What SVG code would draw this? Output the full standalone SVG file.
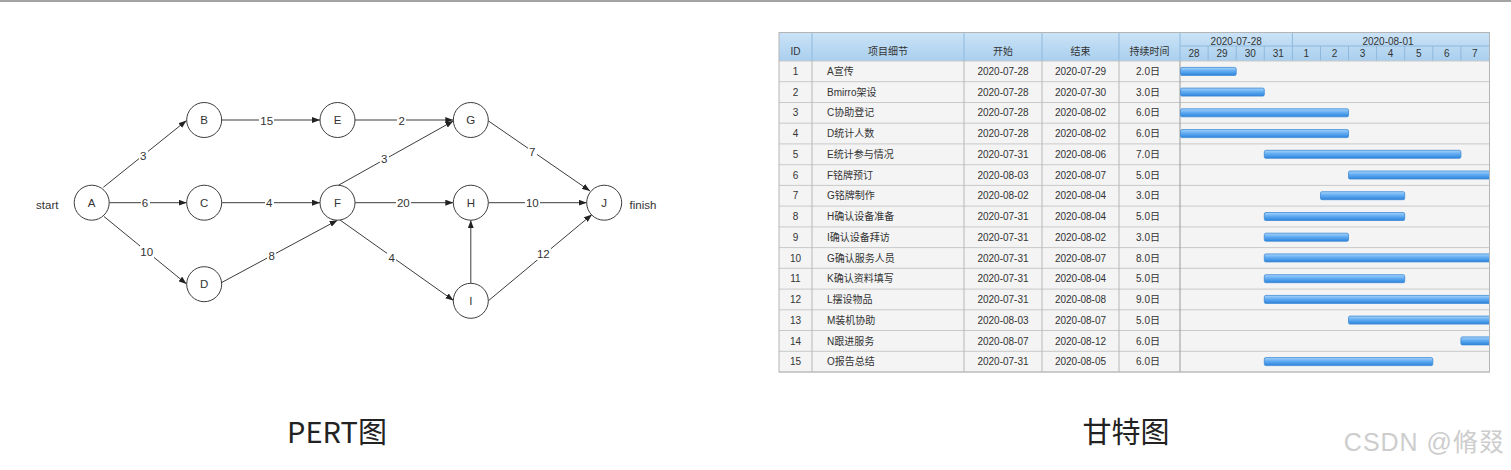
<svg xmlns="http://www.w3.org/2000/svg" width="1511" height="470" viewBox="0 0 1511 470">
<style>
.nd circle{fill:#fff;stroke:#3c3c3c;stroke-width:1}
.nd text,.lbl text,.side{font-family:"Liberation Sans","Noto Sans CJK SC",sans-serif;font-size:11.5px;fill:#333;text-anchor:middle}
.edges line{stroke:#3c3c3c;stroke-width:1;marker-end:url(#arr)}
.lbl rect{fill:#fff}
.t{font-family:"Liberation Sans","Noto Sans CJK SC",sans-serif;font-size:10px;fill:#333;text-anchor:middle}
.tl{font-family:"Liberation Sans","Noto Sans CJK SC",sans-serif;font-size:10px;fill:#333}
.hd{font-family:"Liberation Sans","Noto Sans CJK SC",sans-serif;font-size:10px;fill:#333;text-anchor:middle}
.bar{fill:url(#bg);stroke:#3d8ad6;stroke-width:0.8}
.rl{stroke:#c9c9c9;stroke-width:1}
.cl{stroke:#b8b8b8;stroke-width:1}
.hl{stroke:#8fb9dc;stroke-width:1}
.cap{font-family:"Noto Sans CJK SC","Liberation Sans",sans-serif;font-size:29px;fill:#222;text-anchor:middle}
</style>
<defs>
<marker id="arr" markerUnits="userSpaceOnUse" markerWidth="8" markerHeight="6" refX="8" refY="3" orient="auto">
<path d="M0,0 L8,3 L0,6 z" fill="#222"/>
</marker>
<linearGradient id="hg" x1="0" y1="0" x2="0" y2="1">
<stop offset="0" stop-color="#cbe3f7"/>
<stop offset="1" stop-color="#a9cfee"/>
</linearGradient>
<linearGradient id="bg" x1="0" y1="0" x2="0" y2="1">
<stop offset="0" stop-color="#a8d4fb"/>
<stop offset="0.45" stop-color="#62acf2"/>
<stop offset="1" stop-color="#2d84dc"/>
</linearGradient>
<clipPath id="chart"><rect x="1180" y="61" width="309" height="311"/></clipPath>
</defs>
<rect width="1511" height="470" fill="#fff"/>
<rect x="0" y="0" width="1511" height="2" fill="#a3a3a3"/>

<!-- PERT -->
<g class="edges" id="connectors">
<line x1="103.3" y1="187.3" x2="186.5" y2="120.5"/>
<line x1="109.2" y1="202.7" x2="186.7" y2="202.7"/>
<line x1="104" y1="216.5" x2="186.5" y2="284"/>
<line x1="221.7" y1="120" x2="320" y2="120"/>
<line x1="221.7" y1="202.7" x2="320" y2="202.7"/>
<line x1="221.7" y1="282.5" x2="337.5" y2="220.2"/>
<line x1="355" y1="120" x2="453.3" y2="120"/>
<line x1="338.5" y1="185.2" x2="453.3" y2="121"/>
<line x1="355" y1="202.7" x2="453.3" y2="202.7"/>
<line x1="340" y1="220" x2="453.5" y2="300.5"/>
<line x1="488.5" y1="121" x2="590" y2="191"/>
<line x1="488.3" y1="202.7" x2="586.7" y2="202.7"/>
<line x1="470.8" y1="283.3" x2="470.8" y2="220.2"/>
<line x1="488.3" y1="300.8" x2="592" y2="214.5"/>
</g>
<g class="lbl" id="edge-labels">
<rect x="139" y="150" width="9" height="12"/><text x="143.3" y="160">3</text>
<rect x="141" y="197" width="9" height="12"/><text x="145" y="206.8">6</text>
<rect x="140" y="246" width="14" height="12"/><text x="146.7" y="256.4">10</text>
<rect x="259" y="115" width="15" height="12"/><text x="266.7" y="124.8">15</text>
<rect x="265" y="197" width="9" height="12"/><text x="269.3" y="206.8">4</text>
<rect x="267" y="250" width="9" height="12"/><text x="271.7" y="259.8">8</text>
<rect x="397" y="115" width="9" height="12"/><text x="401.7" y="124.8">2</text>
<rect x="380" y="153" width="9" height="12"/><text x="384.3" y="163">3</text>
<rect x="396" y="197" width="15" height="12"/><text x="403.3" y="206.8">20</text>
<rect x="387" y="252" width="9" height="12"/><text x="391.7" y="262.4">4</text>
<rect x="528" y="146" width="9" height="12"/><text x="532.3" y="156.4">7</text>
<rect x="525" y="197" width="15" height="12"/><text x="532.3" y="206.8">10</text>
<rect x="536" y="248" width="15" height="12"/><text x="543.3" y="258.4">12</text>
</g>
<text class="side" x="47.3" y="209">start</text>
<text class="side" x="643" y="209">finish</text>
<g class="nd" id="node-A"><circle cx="91.7" cy="202.7" r="17.5"/><text x="91.7" y="206.8">A</text></g>
<g class="nd" id="node-B"><circle cx="204.2" cy="120" r="17.5"/><text x="204.2" y="124.1">B</text></g>
<g class="nd" id="node-C"><circle cx="204.2" cy="202.7" r="17.5"/><text x="204.2" y="206.8">C</text></g>
<g class="nd" id="node-D"><circle cx="204.2" cy="284.2" r="17.5"/><text x="204.2" y="288.3">D</text></g>
<g class="nd" id="node-E"><circle cx="337.5" cy="120" r="17.5"/><text x="337.5" y="124.1">E</text></g>
<g class="nd" id="node-F"><circle cx="337.5" cy="202.7" r="17.5"/><text x="337.5" y="206.8">F</text></g>
<g class="nd" id="node-G"><circle cx="470.8" cy="120" r="17.5"/><text x="470.8" y="124.1">G</text></g>
<g class="nd" id="node-H"><circle cx="470.8" cy="202.7" r="17.5"/><text x="470.8" y="206.8">H</text></g>
<g class="nd" id="node-I"><circle cx="470.8" cy="300.8" r="17.5"/><text x="470.8" y="304.9">I</text></g>
<g class="nd" id="node-J"><circle cx="604.2" cy="202.7" r="17.5"/><text x="604.2" y="206.8">J</text></g>

<!-- Gantt -->
<g id="gantt">
<rect x="779" y="61" width="710.5" height="311" fill="#f4f4f4"/>
<rect x="779" y="32.5" width="710.5" height="28.5" fill="url(#hg)"/>
<g id="header-lines">
<line class="hl" x1="1180" y1="46" x2="1489.5" y2="46"/>
<line class="hl" x1="812" y1="32.5" x2="812" y2="61"/>
<line class="hl" x1="964" y1="32.5" x2="964" y2="61"/>
<line class="hl" x1="1042" y1="32.5" x2="1042" y2="61"/>
<line class="hl" x1="1119" y1="32.5" x2="1119" y2="61"/>
<line class="hl" x1="1180" y1="32.5" x2="1180" y2="61"/>
<line class="hl" x1="1292.4" y1="32.5" x2="1292.4" y2="61"/>
<line class="hl" x1="1208.1" y1="46" x2="1208.1" y2="61"/>
<line class="hl" x1="1236.2" y1="46" x2="1236.2" y2="61"/>
<line class="hl" x1="1264.3" y1="46" x2="1264.3" y2="61"/>
<line class="hl" x1="1320.5" y1="46" x2="1320.5" y2="61"/>
<line class="hl" x1="1348.5" y1="46" x2="1348.5" y2="61"/>
<line class="hl" x1="1376.6" y1="46" x2="1376.6" y2="61"/>
<line class="hl" x1="1404.7" y1="46" x2="1404.7" y2="61"/>
<line class="hl" x1="1432.8" y1="46" x2="1432.8" y2="61"/>
<line class="hl" x1="1460.9" y1="46" x2="1460.9" y2="61"/>
</g>
<g id="header-text">
<text class="hd" x="795.5" y="55">ID</text>
<text class="hd" x="888" y="55">项目细节</text>
<text class="hd" x="1003" y="55">开始</text>
<text class="hd" x="1080.5" y="55">结束</text>
<text class="hd" x="1149.5" y="55">持续时间</text>
<text class="hd" x="1236.2" y="44.5">2020-07-28</text>
<text class="hd" x="1388" y="44.5">2020-08-01</text>
<text class="hd" x="1194" y="57">28</text>
<text class="hd" x="1222.1" y="57">29</text>
<text class="hd" x="1250.2" y="57">30</text>
<text class="hd" x="1278.3" y="57">31</text>
<text class="hd" x="1306.4" y="57">1</text>
<text class="hd" x="1334.5" y="57">2</text>
<text class="hd" x="1362.6" y="57">3</text>
<text class="hd" x="1390.6" y="57">4</text>
<text class="hd" x="1418.7" y="57">5</text>
<text class="hd" x="1446.8" y="57">6</text>
<text class="hd" x="1474.9" y="57">7</text>
</g>
<g id="row-lines">
<line class="rl" x1="779" y1="61" x2="1489.5" y2="61"/>
<line class="rl" x1="779" y1="81.7" x2="1489.5" y2="81.7"/>
<line class="rl" x1="779" y1="102.5" x2="1489.5" y2="102.5"/>
<line class="rl" x1="779" y1="123.2" x2="1489.5" y2="123.2"/>
<line class="rl" x1="779" y1="143.9" x2="1489.5" y2="143.9"/>
<line class="rl" x1="779" y1="164.7" x2="1489.5" y2="164.7"/>
<line class="rl" x1="779" y1="185.4" x2="1489.5" y2="185.4"/>
<line class="rl" x1="779" y1="206.1" x2="1489.5" y2="206.1"/>
<line class="rl" x1="779" y1="226.9" x2="1489.5" y2="226.9"/>
<line class="rl" x1="779" y1="247.6" x2="1489.5" y2="247.6"/>
<line class="rl" x1="779" y1="268.3" x2="1489.5" y2="268.3"/>
<line class="rl" x1="779" y1="289.1" x2="1489.5" y2="289.1"/>
<line class="rl" x1="779" y1="309.8" x2="1489.5" y2="309.8"/>
<line class="rl" x1="779" y1="330.5" x2="1489.5" y2="330.5"/>
<line class="rl" x1="779" y1="351.3" x2="1489.5" y2="351.3"/>
<line class="rl" x1="779" y1="372" x2="1489.5" y2="372"/>
<line class="cl" x1="812" y1="61" x2="812" y2="372"/>
<line class="cl" x1="964" y1="61" x2="964" y2="372"/>
<line class="cl" x1="1042" y1="61" x2="1042" y2="372"/>
<line class="cl" x1="1119" y1="61" x2="1119" y2="372"/>
<line x1="1180" y1="61" x2="1180" y2="372" stroke="#9a9a9a"/>
<rect x="779" y="32.5" width="710.5" height="339.5" fill="none" stroke="#b5b5b5"/>
</g>
<g id="rows">
<text class="t" x="795.5" y="75">1</text><text class="tl" x="827" y="75">A宣传</text><text class="t" x="1003" y="75">2020-07-28</text><text class="t" x="1080.5" y="75">2020-07-29</text><text class="t" x="1148" y="75">2.0日</text>
<text class="t" x="795.5" y="95.7">2</text><text class="tl" x="827" y="95.7">Bmirro架设</text><text class="t" x="1003" y="95.7">2020-07-28</text><text class="t" x="1080.5" y="95.7">2020-07-30</text><text class="t" x="1148" y="95.7">3.0日</text>
<text class="t" x="795.5" y="116.4">3</text><text class="tl" x="827" y="116.4">C协助登记</text><text class="t" x="1003" y="116.4">2020-07-28</text><text class="t" x="1080.5" y="116.4">2020-08-02</text><text class="t" x="1148" y="116.4">6.0日</text>
<text class="t" x="795.5" y="137.2">4</text><text class="tl" x="827" y="137.2">D统计人数</text><text class="t" x="1003" y="137.2">2020-07-28</text><text class="t" x="1080.5" y="137.2">2020-08-02</text><text class="t" x="1148" y="137.2">6.0日</text>
<text class="t" x="795.5" y="157.9">5</text><text class="tl" x="827" y="157.9">E统计参与情况</text><text class="t" x="1003" y="157.9">2020-07-31</text><text class="t" x="1080.5" y="157.9">2020-08-06</text><text class="t" x="1148" y="157.9">7.0日</text>
<text class="t" x="795.5" y="178.6">6</text><text class="tl" x="827" y="178.6">F铭牌预订</text><text class="t" x="1003" y="178.6">2020-08-03</text><text class="t" x="1080.5" y="178.6">2020-08-07</text><text class="t" x="1148" y="178.6">5.0日</text>
<text class="t" x="795.5" y="199.4">7</text><text class="tl" x="827" y="199.4">G铭牌制作</text><text class="t" x="1003" y="199.4">2020-08-02</text><text class="t" x="1080.5" y="199.4">2020-08-04</text><text class="t" x="1148" y="199.4">3.0日</text>
<text class="t" x="795.5" y="220.1">8</text><text class="tl" x="827" y="220.1">H确认设备准备</text><text class="t" x="1003" y="220.1">2020-07-31</text><text class="t" x="1080.5" y="220.1">2020-08-04</text><text class="t" x="1148" y="220.1">5.0日</text>
<text class="t" x="795.5" y="240.8">9</text><text class="tl" x="827" y="240.8">I确认设备拜访</text><text class="t" x="1003" y="240.8">2020-07-31</text><text class="t" x="1080.5" y="240.8">2020-08-02</text><text class="t" x="1148" y="240.8">3.0日</text>
<text class="t" x="795.5" y="261.6">10</text><text class="tl" x="827" y="261.6">G确认服务人员</text><text class="t" x="1003" y="261.6">2020-07-31</text><text class="t" x="1080.5" y="261.6">2020-08-07</text><text class="t" x="1148" y="261.6">8.0日</text>
<text class="t" x="795.5" y="282.3">11</text><text class="tl" x="827" y="282.3">K确认资料填写</text><text class="t" x="1003" y="282.3">2020-07-31</text><text class="t" x="1080.5" y="282.3">2020-08-04</text><text class="t" x="1148" y="282.3">5.0日</text>
<text class="t" x="795.5" y="303">12</text><text class="tl" x="827" y="303">L摆设物品</text><text class="t" x="1003" y="303">2020-07-31</text><text class="t" x="1080.5" y="303">2020-08-08</text><text class="t" x="1148" y="303">9.0日</text>
<text class="t" x="795.5" y="323.8">13</text><text class="tl" x="827" y="323.8">M装机协助</text><text class="t" x="1003" y="323.8">2020-08-03</text><text class="t" x="1080.5" y="323.8">2020-08-07</text><text class="t" x="1148" y="323.8">5.0日</text>
<text class="t" x="795.5" y="344.5">14</text><text class="tl" x="827" y="344.5">N跟进服务</text><text class="t" x="1003" y="344.5">2020-08-07</text><text class="t" x="1080.5" y="344.5">2020-08-12</text><text class="t" x="1148" y="344.5">6.0日</text>
<text class="t" x="795.5" y="365.2">15</text><text class="tl" x="827" y="365.2">O报告总结</text><text class="t" x="1003" y="365.2">2020-07-31</text><text class="t" x="1080.5" y="365.2">2020-08-05</text><text class="t" x="1148" y="365.2">6.0日</text>
</g>
<g id="bars" clip-path="url(#chart)">
<rect class="bar" x="1180.5" y="67.4" width="55.7" height="8" rx="1.5"/>
<rect class="bar" x="1180.5" y="88.1" width="83.8" height="8" rx="1.5"/>
<rect class="bar" x="1180.5" y="108.8" width="168" height="8" rx="1.5"/>
<rect class="bar" x="1180.5" y="129.6" width="168" height="8" rx="1.5"/>
<rect class="bar" x="1264.3" y="150.3" width="196.6" height="8" rx="1.5"/>
<rect class="bar" x="1348.5" y="171" width="160" height="8" rx="1.5"/>
<rect class="bar" x="1320.5" y="191.7" width="84.2" height="8" rx="1.5"/>
<rect class="bar" x="1264.3" y="212.5" width="140.4" height="8" rx="1.5"/>
<rect class="bar" x="1264.3" y="233.2" width="84.2" height="8" rx="1.5"/>
<rect class="bar" x="1264.3" y="253.9" width="240" height="8" rx="1.5"/>
<rect class="bar" x="1264.3" y="274.7" width="140.4" height="8" rx="1.5"/>
<rect class="bar" x="1264.3" y="295.4" width="260" height="8" rx="1.5"/>
<rect class="bar" x="1348.5" y="316.1" width="160" height="8" rx="1.5"/>
<rect class="bar" x="1460.9" y="336.9" width="60" height="8" rx="1.5"/>
<rect class="bar" x="1264.3" y="357.6" width="168.5" height="8" rx="1.5"/>
</g>
<line x1="1489.5" y1="61" x2="1489.5" y2="372" stroke="#b5b5b5"/>
</g>

<text class="cap" x="337" y="443">PERT图</text>
<text class="cap" x="1126" y="443">甘特图</text>
<text x="1505" y="451" font-family="Liberation Sans,Noto Sans CJK SC,sans-serif" font-size="25" fill="#cdcdcd" letter-spacing="1" text-anchor="end">CSDN @脩叕</text>
</svg>
